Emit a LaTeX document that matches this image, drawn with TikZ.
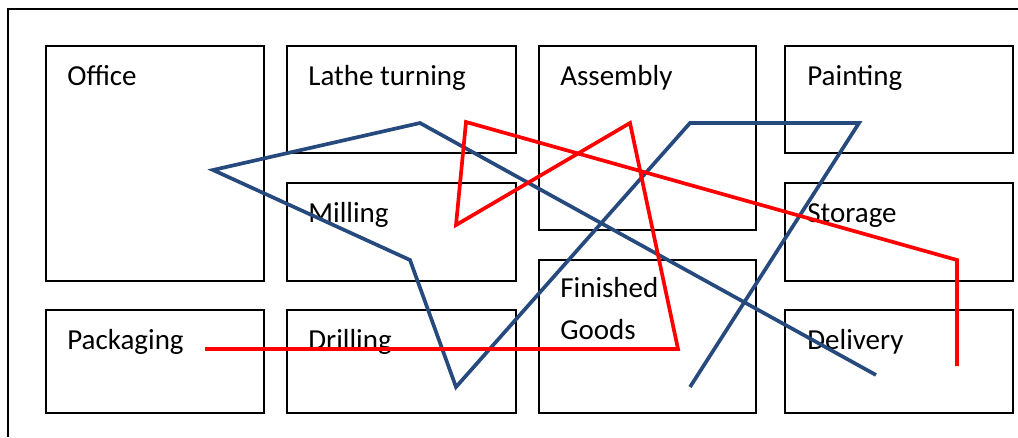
\documentclass[tikz,border=0pt]{standalone}
\usepackage{fontspec}
\setmainfont{Carlito}
\definecolor{routeblue}{RGB}{38,74,125}
\definecolor{routered}{RGB}{255,0,0}
\tikzset{
  room/.style={draw=black, line width=0.8pt},
  roomname/.style={anchor=base west, inner sep=0pt, font=\fontsize{16.5}{23.9}\selectfont, align=left},
  bluepath/.style={draw=routeblue, line width=2.1pt},
  redpath/.style={draw=routered, line width=2.1pt},
}
\begin{document}
\begin{tikzpicture}[x=0.02cm, y=-0.02cm]
				\useasboundingbox (0,0) rectangle (1018,437);
				\draw[room] (1018,9)--(8,9)--(8,437);
				% rooms
				\draw[room] (46,46) rectangle (264,281);
				\draw[room] (287,46) rectangle (516,153);
				\draw[room] (287,183) rectangle (516,281);
				\draw[room] (46,310) rectangle (264,413);
				\draw[room] (287,310) rectangle (516,413);
				\draw[room] (539,46) rectangle (756,230);
				\draw[room] (539,260) rectangle (756,413);
				\draw[room] (785,46) rectangle (1013,153);
				\draw[room] (785,183) rectangle (1013,281);
				\draw[room] (785,310) rectangle (1013,413);
				\node[roomname] (office) at (67,85) {Office};
				\node[roomname] (lathe) at (308,85) {Lathe turning};
				\node[roomname] (milling) at (308,222) {Milling};
				\node[roomname] (packaging) at (67,349) {Packaging};
				\node[roomname] (drilling) at (308,349) {Drilling};
				\node[roomname] (assembly) at (560,85) {Assembly};
				\node[roomname] (finished) at (560,339) {Finished\\Goods};
				\node[roomname] (painting) at (807,85) {Painting};
				\node[roomname] (storage) at (807,222) {Storage};
				\node[roomname] (delivery) at (807,349) {Delivery};
				% blue route
				\coordinate (b1) at (876,375);
				\coordinate (b2) at (420,123);
				\coordinate (b3) at (213,170);
				\coordinate (b4) at (410,260);
				\coordinate (b5) at (456,387);
				\coordinate (b6) at (690,123);
				\coordinate (b7) at (859,123);
				\coordinate (b8) at (690,387);
				\draw[bluepath] (b1)--(b2)--(b3)--(b4)--(b5)--(b6)--(b7)--(b8);
				% red route
				\coordinate (r1) at (205,349);
				\coordinate (r2) at (678,349);
				\coordinate (r3) at (630,123);
				\coordinate (r4) at (456,225);
				\coordinate (r5) at (466,122);
				\coordinate (r6) at (957,260);
				\coordinate (r7) at (957,366);
				\draw[redpath] (r1)--(r2)--(r3)--(r4)--(r5)--(r6)--(r7);
\end{tikzpicture}
\end{document}
